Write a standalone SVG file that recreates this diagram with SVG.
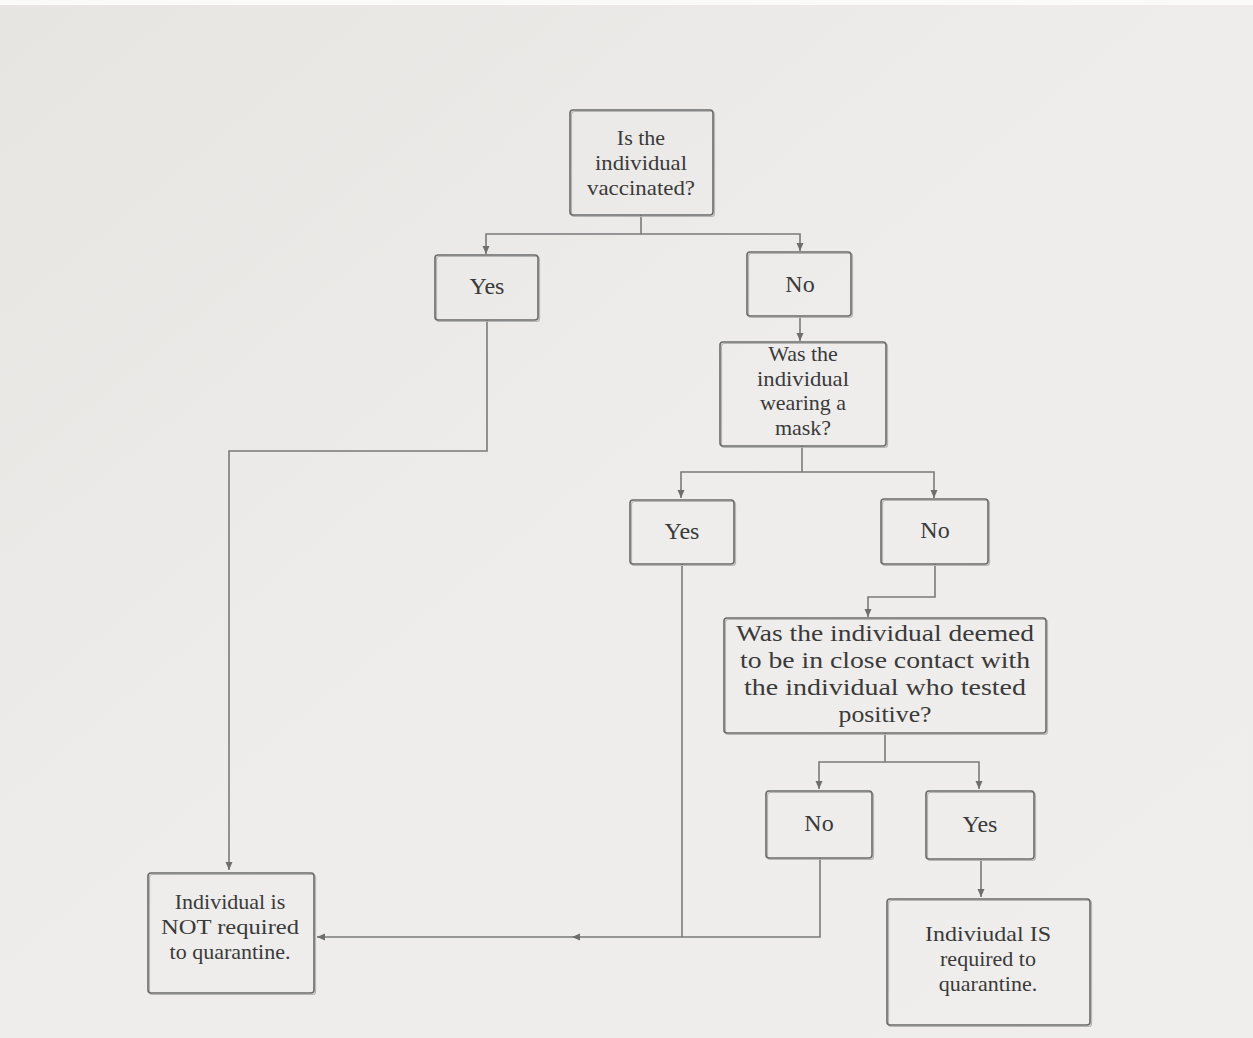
<svg xmlns="http://www.w3.org/2000/svg" width="1253" height="1038" viewBox="0 0 1253 1038">
<defs>
<linearGradient id="bg" x1="0" y1="0" x2="1" y2="1">
<stop offset="0" stop-color="#e6e5e2"/>
<stop offset="0.5" stop-color="#eeedeb"/>
<stop offset="1" stop-color="#efeeec"/>
</linearGradient>
<marker id="arr" markerUnits="userSpaceOnUse" markerWidth="9" markerHeight="8" refX="8" refY="3.5" orient="auto">
<path d="M0,0 L8,3.5 L0,7 z" fill="#6e6e6e"/>
</marker>
<style>
.box{fill:none;stroke:#6a6a6a;stroke-width:1.6}
.sh{fill:none;stroke:#b5b5b3;stroke-width:1.2}
.t{font-family:"Liberation Serif","Times New Roman",serif;font-size:22px;fill:#3a3a3a;text-anchor:middle}
.s{font-size:24px}
.tl{font-size:24px}
.c path{fill:none;stroke:#7a7a7a;stroke-width:1.6}
</style>
</defs>
<rect x="0" y="0" width="1253" height="1038" fill="url(#bg)"/>
<rect x="0" y="0" width="1253" height="5" fill="#fafafa"/>

<g class="c" id="connectors">
<path d="M641 215 V234"/>
<path d="M641 234 H486 V254" marker-end="url(#arr)"/>
<path d="M641 234 H800 V251" marker-end="url(#arr)"/>
<path d="M800 316 V341" marker-end="url(#arr)"/>
<path d="M487 320 V451 H229 V870" marker-end="url(#arr)"/>
<path d="M802 446 V472"/>
<path d="M802 472 H681 V498" marker-end="url(#arr)"/>
<path d="M802 472 H934 V498" marker-end="url(#arr)"/>
<path d="M935 564 V597 H868 V617" marker-end="url(#arr)"/>
<path d="M885 733 V762"/>
<path d="M885 762 H819 V789" marker-end="url(#arr)"/>
<path d="M885 762 H979 V789" marker-end="url(#arr)"/>
<path d="M981 859 V897" marker-end="url(#arr)"/>
<path d="M682 564 V937"/>
<path d="M820 858 V937 H572" marker-end="url(#arr)"/>
<path d="M572 937 H317" marker-end="url(#arr)"/>
</g>

<g id="q1">
<rect class="sh" x="571.5" y="111.5" width="143" height="105" rx="3"/>
<rect class="box" x="570" y="110" width="143" height="105" rx="3"/>
<text class="t" x="641" y="145">Is the</text>
<text class="t" x="641" y="170" textLength="92" lengthAdjust="spacingAndGlyphs">individual</text>
<text class="t" x="641" y="195" textLength="108" lengthAdjust="spacingAndGlyphs">vaccinated?</text>
</g>

<g id="yes1">
<rect class="sh" x="436.5" y="256.5" width="103" height="65" rx="3"/>
<rect class="box" x="435" y="255" width="103" height="65" rx="3"/>
<text class="t s" x="487" y="294">Yes</text>
</g>

<g id="no1">
<rect class="sh" x="748.5" y="253.5" width="104" height="64" rx="3"/>
<rect class="box" x="747" y="252" width="104" height="64" rx="3"/>
<text class="t s" x="800" y="292">No</text>
</g>

<g id="q2">
<rect class="sh" x="721.5" y="343.5" width="166" height="104" rx="3"/>
<rect class="box" x="720" y="342" width="166" height="104" rx="3"/>
<text class="t" x="803" y="361">Was the</text>
<text class="t" x="803" y="386" textLength="92" lengthAdjust="spacingAndGlyphs">individual</text>
<text class="t" x="803" y="410">wearing a</text>
<text class="t" x="803" y="435">mask?</text>
</g>

<g id="yes2">
<rect class="sh" x="631.5" y="501.5" width="104" height="64" rx="3"/>
<rect class="box" x="630" y="500" width="104" height="64" rx="3"/>
<text class="t s" x="682" y="539">Yes</text>
</g>

<g id="no2">
<rect class="sh" x="882.5" y="500.5" width="107" height="65" rx="3"/>
<rect class="box" x="881" y="499" width="107" height="65" rx="3"/>
<text class="t s" x="935" y="538">No</text>
</g>

<g id="q3">
<rect class="sh" x="725.5" y="619.5" width="322" height="115" rx="3"/>
<rect class="box" x="724" y="618" width="322" height="115" rx="3"/>
<text class="t tl" x="885" y="641" textLength="298" lengthAdjust="spacingAndGlyphs">Was the individual deemed</text>
<text class="t tl" x="885" y="668" textLength="290" lengthAdjust="spacingAndGlyphs">to be in close contact with</text>
<text class="t tl" x="885" y="695" textLength="282" lengthAdjust="spacingAndGlyphs">the individual who tested</text>
<text class="t tl" x="885" y="722" textLength="93" lengthAdjust="spacingAndGlyphs">positive?</text>
</g>

<g id="no3">
<rect class="sh" x="767.5" y="792.5" width="106" height="67" rx="3"/>
<rect class="box" x="766" y="791" width="106" height="67" rx="3"/>
<text class="t s" x="819" y="831">No</text>
</g>

<g id="yes3">
<rect class="sh" x="927.5" y="792.5" width="108" height="68" rx="3"/>
<rect class="box" x="926" y="791" width="108" height="68" rx="3"/>
<text class="t s" x="980" y="832">Yes</text>
</g>

<g id="notreq">
<rect class="sh" x="149.5" y="874.5" width="166" height="120" rx="3"/>
<rect class="box" x="148" y="873" width="166" height="120" rx="3"/>
<text class="t" x="230" y="909">Individual is</text>
<text class="t" x="230" y="934" textLength="138" lengthAdjust="spacingAndGlyphs">NOT required</text>
<text class="t" x="230" y="959">to quarantine.</text>
</g>

<g id="isreq">
<rect class="sh" x="888.5" y="900.5" width="203" height="126" rx="3"/>
<rect class="box" x="887" y="899" width="203" height="126" rx="3"/>
<text class="t" x="988" y="941" textLength="126" lengthAdjust="spacingAndGlyphs">Indiviudal IS</text>
<text class="t" x="988" y="966">required to</text>
<text class="t" x="988" y="991">quarantine.</text>
</g>
</svg>
